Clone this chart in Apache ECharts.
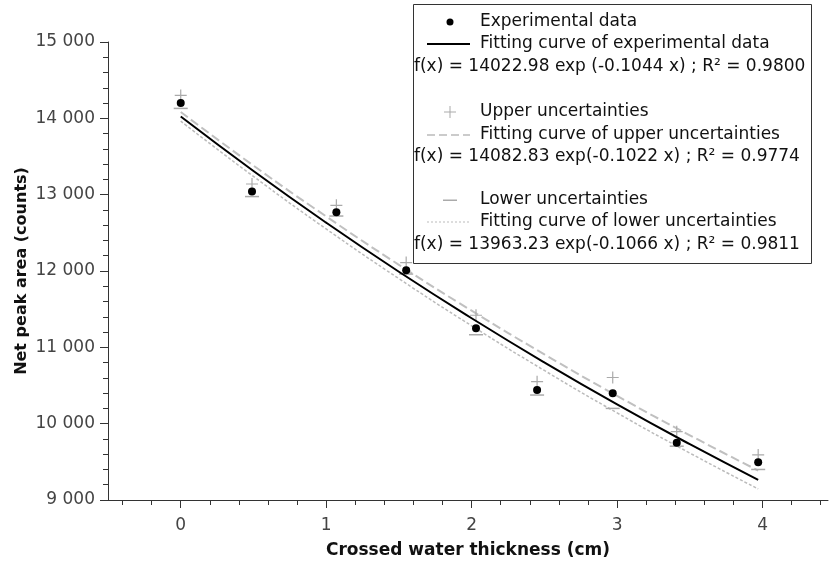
<!DOCTYPE html>
<html lang="en">
<head>
    <meta charset="UTF-8">
    <title>Net peak area vs crossed water thickness</title>
    <script src="https://cdn.jsdelivr.net/npm/echarts@6/dist/echarts.min.js"></script>
    <style>
        html, body { margin: 0; padding: 0; background: #fff; }
        #chart { width: 830px; height: 565px; }
    </style>
</head>
<body>
    <div id="chart"></div>
    <script>
        // measured points
        const thickness = [0, 0.49, 1.07, 1.55, 2.03, 2.45, 2.97, 3.41, 3.97];
        const peakArea = [14200, 13040, 12770, 12010, 11250, 10440, 10400, 9750, 9495];
        const upperArea = [14300, 13140, 12860, 12110, 11420, 10550, 10605, 9895, 9590];
        const lowerArea = [14130, 12975, 12720, 11960, 11165, 10375, 10200, 9705, 9400];

        // fitted curves
        const fitX = [0, 0.5, 1, 1.5, 2, 2.5, 3, 3.5, 3.97];
        const fitMain = [14023, 13310, 12633, 11990, 11381, 10802, 10252, 9731, 9265];
        const fitUpper = [14083, 13381, 12715, 12081, 11480, 10908, 10364, 9848, 9386];
        const fitLower = [13963, 13239, 12551, 11900, 11282, 10697, 10141, 9615, 9145];

        const xMajor = [0, 1, 2, 3, 4];
        const xMinor = [-0.4, -0.2, 0.2, 0.4, 0.6, 0.8, 1.2, 1.4, 1.6, 1.8, 2.2, 2.4, 2.6, 2.8,
                        3.2, 3.4, 3.6, 3.8, 4.2, 4.4];

        const legendLines = [
            'f(x) = 14022.98 exp (-0.1044 x) ; R² = 0.9800',
            'f(x) = 14082.83 exp(-0.1022 x) ; R² = 0.9774',
            'f(x) = 13963.23 exp(-0.1066 x) ; R² = 0.9811'
        ];

        const FONT = '"DejaVu Sans", sans-serif';
        const GREY = '#aaaaaa';
        const plusPath = 'path://M0,4.5H10V5.5H0Z M4.5,0H5.5V10H4.5Z';

        const zip = (xs, ys) => xs.map((x, i) => [x, ys[i]]);

        const chart = echarts.init(document.getElementById('chart'));

        // legend drawn by hand (box with formulas)
        const legendFont = '17px ' + FONT;
        const lx = 480, sx = 450;
        const txt = (t, x, y) => ({
            type: 'text', z: 101,
            style: { text: t, x: x, y: y, font: legendFont, fill: '#111', verticalAlign: 'middle' }
        });
        const seg = (y, dash, color, w) => ({
            type: 'line', z: 101,
            shape: { x1: 427, y1: y, x2: 470, y2: y },
            style: { stroke: color, lineWidth: w, lineDash: dash }
        });
        const box = (x, y, w, h) => ({
            type: 'rect', z: 101, shape: { x: x, y: y, width: w, height: h }, style: { fill: GREY }
        });
        const graphic = [
            { type: 'rect', z: 100, shape: { x: 413.5, y: 4.5, width: 398, height: 259 },
              style: { fill: '#fff', stroke: '#333', lineWidth: 1 } },
            { type: 'circle', z: 101, shape: { cx: sx, cy: 22, r: 3.5 }, style: { fill: '#000' } },
            txt('Experimental data', lx, 22),
            seg(44, null, '#000', 2),
            txt('Fitting curve of experimental data', lx, 44),
            txt(legendLines[0], 414, 67),
            box(444, 111.5, 12, 1), box(449.5, 106, 1, 12),
            txt('Upper uncertainties', lx, 112),
            seg(135, [8, 4], '#bbb', 1.5),
            txt('Fitting curve of upper uncertainties', lx, 135),
            txt(legendLines[1], 414, 157),
            box(443, 199.5, 14, 1.5),
            txt('Lower uncertainties', lx, 200),
            seg(222, [2, 2], '#bbb', 1),
            txt('Fitting curve of lower uncertainties', lx, 222),
            txt(legendLines[2], 414, 245)
        ];

        const option = {
            animation: false,
            backgroundColor: '#fff',
            textStyle: { fontFamily: FONT },
            grid: { left: 108, right: 2, top: 42, bottom: 65, outerBoundsMode: 'none' },
            xAxis: [{
                type: 'value', min: -0.5, max: 4.45,
                name: 'Crossed water thickness (cm)', nameLocation: 'middle', nameGap: 42,
                nameTextStyle: { fontFamily: FONT, fontSize: 17, fontWeight: 'bold', color: '#111' },
                axisLine: { onZero: false, lineStyle: { color: '#333' } },
                axisTick: { customValues: xMajor, length: 8, lineStyle: { color: '#333' } },
                axisLabel: { customValues: xMajor, fontSize: 17, color: '#444', margin: 17 },
                splitLine: { show: false }
            }, {
                type: 'value', min: -0.5, max: 4.45, position: 'bottom',
                axisLine: { show: false, onZero: false },
                axisTick: { customValues: xMinor, length: 5, lineStyle: { color: '#333' } },
                axisLabel: { show: false },
                splitLine: { show: false }
            }],
            yAxis: {
                type: 'value', min: 9000, max: 15000, interval: 1000,
                name: 'Net peak area (counts)', nameLocation: 'middle', nameGap: 78,
                nameMoveOverlap: false,
                nameTextStyle: { fontFamily: FONT, fontSize: 16, fontWeight: 'bold', color: '#111' },
                axisLine: { show: true, onZero: false, lineStyle: { color: '#333' } },
                axisTick: { show: true, length: 8, lineStyle: { color: '#333' } },
                minorTick: { show: true, splitNumber: 5, length: 5, lineStyle: { color: '#333' } },
                axisLabel: {
                    fontSize: 17, color: '#444', margin: 13,
                    formatter: v => String(v).replace(/\B(?=(\d{3})+(?!\d))/g, ' ')
                },
                splitLine: { show: false }
            },
            graphic: graphic,
            series: [
                {
                    name: 'Fitting curve of lower uncertainties', type: 'line', smooth: true,
                    data: zip(fitX, fitLower), showSymbol: false, z: 2,
                    lineStyle: { color: '#bbb', width: 1.5, type: [3, 2] }
                },
                {
                    name: 'Fitting curve of upper uncertainties', type: 'line', smooth: true,
                    data: zip(fitX, fitUpper), showSymbol: false, z: 2,
                    lineStyle: { color: '#c0c0c0', width: 2, type: [9, 4] }
                },
                {
                    name: 'Upper uncertainties', type: 'scatter', data: zip(thickness, upperArea),
                    symbol: plusPath, symbolSize: 12, z: 3,
                    itemStyle: { color: GREY, opacity: 1 }
                },
                {
                    name: 'Lower uncertainties', type: 'scatter', data: zip(thickness, lowerArea),
                    symbol: 'rect', symbolSize: [14, 1.5], z: 3,
                    itemStyle: { color: GREY, opacity: 1 }
                },
                {
                    name: 'Experimental data', type: 'scatter', data: zip(thickness, peakArea),
                    symbol: 'circle', symbolSize: 8, z: 4,
                    itemStyle: { color: '#000', opacity: 1 }
                },
                {
                    name: 'Fitting curve of experimental data', type: 'line', smooth: true,
                    data: zip(fitX, fitMain), showSymbol: false, z: 5,
                    lineStyle: { color: '#000', width: 2 }
                }
            ]
        };

        chart.setOption(option);
    </script>
</body>
</html>
